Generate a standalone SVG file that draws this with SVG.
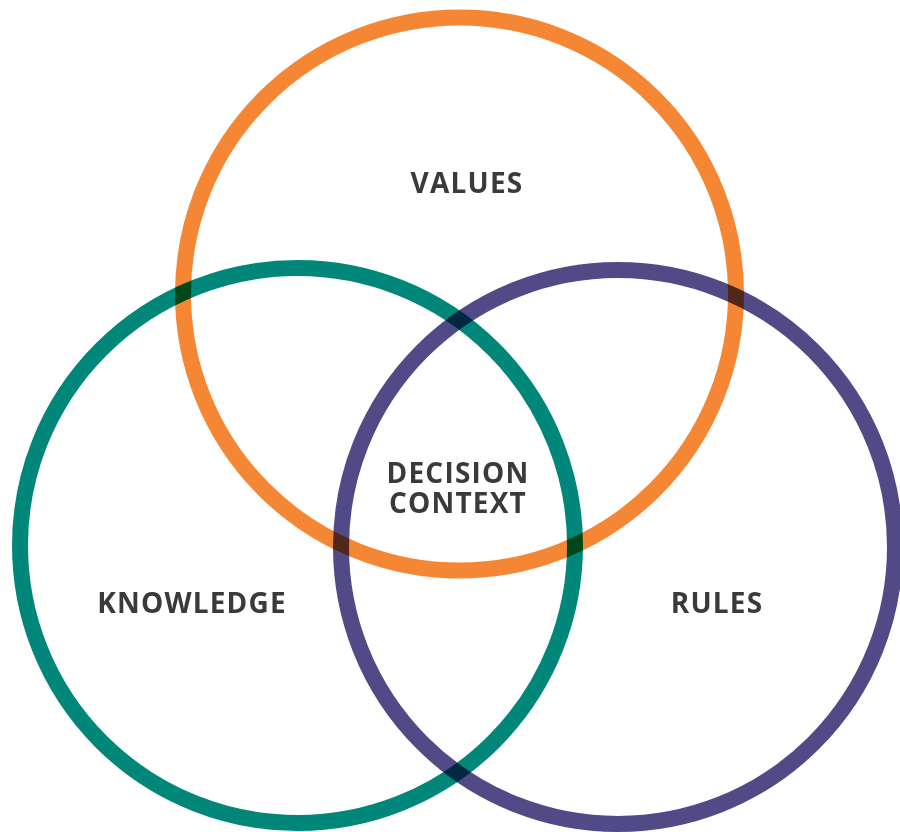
<svg xmlns="http://www.w3.org/2000/svg" width="900" height="832" viewBox="0 0 900 832">
<style>
.ring{fill:none;stroke-width:16;mix-blend-mode:multiply}
.lbl{font-family:"Open Sans","Liberation Sans",sans-serif;font-weight:700;font-size:28px;letter-spacing:1.2px;fill:#3a3a3a;text-anchor:middle}
</style>
<rect width="900" height="832" fill="#ffffff"/>
<g id="connectors"/>
<g id="values">
<circle class="ring" cx="459.5" cy="294" r="276.5" stroke="#F58634"/>
<text class="lbl" x="467" y="193">VALUES</text>
</g>
<g id="knowledge">
<circle class="ring" cx="297.5" cy="545.5" r="277.5" stroke="#00877A"/>
<text class="lbl" x="192" y="613">KNOWLEDGE</text>
</g>
<g id="rules">
<circle class="ring" cx="618" cy="547" r="277" stroke="#524A87"/>
<text class="lbl" x="717" y="613">RULES</text>
</g>
<g id="decision-context">
<text class="lbl" x="458" y="483">DECISION</text>
<text class="lbl" x="458" y="513">CONTEXT</text>
</g>
</svg>
